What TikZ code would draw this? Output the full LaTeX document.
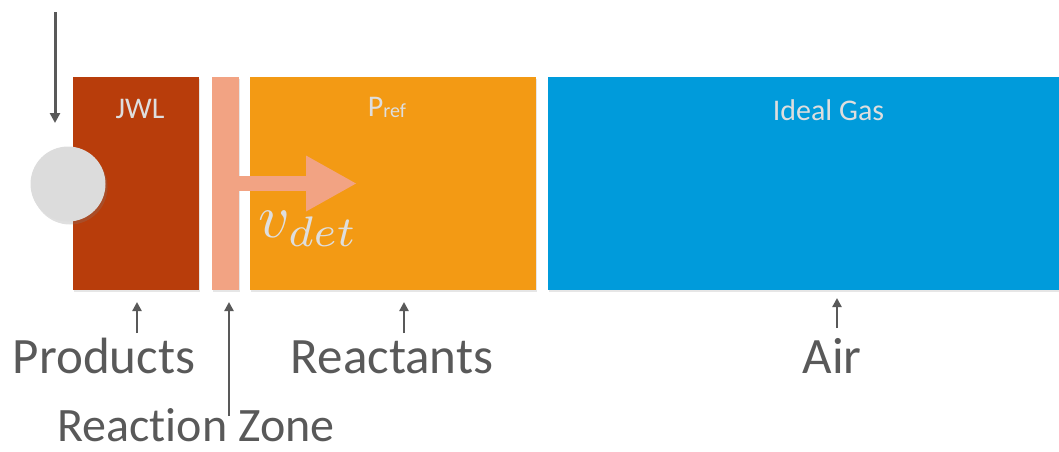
\documentclass[tikz,border=0pt]{standalone}
\usepackage{fontspec}
\setmainfont{Carlito}[Ligatures=NoCommon]
\usetikzlibrary{arrows.meta,positioning,shadows}

\definecolor{jwlred}{HTML}{B83D0B}
\definecolor{zonesalmon}{HTML}{F2A383}
\definecolor{reacorange}{HTML}{F39A14}
\definecolor{airblue}{HTML}{009BDB}
\definecolor{ballgray}{HTML}{DCDCDC}
\definecolor{labelgray}{HTML}{595959}
\definecolor{softgray}{HTML}{DEDEDE}

\begin{document}
\begin{tikzpicture}[
    x=1pt, y=-1pt,
    every node/.style={inner sep=0pt, outer sep=0pt},
    block/.style={rectangle, minimum height=213pt,
        drop shadow={shadow xshift=1pt, shadow yshift=-2pt, opacity=0.2}},
    boxtext/.style={font=\fontsize{30}{36}\selectfont, text=softgray},
    caption/.style={font=\fontsize{51}{60}\selectfont, text=labelgray},
    pointer/.style={draw=labelgray, line width=2.5pt, -{Triangle[length=9pt,width=9pt]}}
]
\useasboundingbox (0,0) rectangle (1059,451);

% material regions
\node[block, fill=jwlred, minimum width=126pt] (jwl) at (136,183.5) {};
\node[block, fill=zonesalmon, minimum width=27pt] (zone) at (225.5,183.5) {};
\node[block, fill=reacorange, minimum width=286pt] (reac) at (392.5,183.5) {};
\node[block, fill=airblue, minimum width=511pt] (air) at (803.5,183.5) {};

\node[boxtext, anchor=base] at ([xshift=4pt,yshift=-41pt]jwl.north) {JWL};
\node[boxtext, anchor=base] at ([xshift=-5.5pt,yshift=-39pt]reac.north)
    {P\raisebox{-1pt}{\fontsize{20}{24}\selectfont ref}};
\node[boxtext, anchor=base] at ([xshift=25pt,yshift=-43pt]air.north) {Ideal Gas};

% detonation front
\draw[zonesalmon, line width=15pt, -{Triangle[length=51pt,width=52pt]}]
    (zone.center) -- ([xshift=131.5pt]zone.center);
\node[anchor=base west, text=softgray, font=\normalsize]
    at ([xshift=9pt,yshift=-54pt]reac.west) {\scalebox{6.1}{$v_{det}$}};

% ignition point
\node[circle, minimum size=75pt, fill=ballgray,
    drop shadow={shadow xshift=2pt, shadow yshift=-3pt, opacity=0.25}] (ignition) at (68,184) {};
\coordinate (trigger) at (55,12);
\draw[pointer, line width=3pt, -{Triangle[length=10pt,width=10pt]}]
    (trigger) -- ([xshift=-13pt,yshift=61pt]ignition.center);

% captions
\node[caption, anchor=base] (prodlbl) at (104,373) {Products};
\node[caption, anchor=base] (reaclbl) at (392,373) {Reactants};
\node[caption, anchor=base] (airlbl) at (832,373) {Air};
\node[caption, anchor=base, font=\fontsize{48}{56}\selectfont] (zonelbl) at (196,441) {Reaction Zone};

\draw[pointer] ([xshift=1pt,yshift=-43pt]jwl.south) -- ([xshift=1pt,yshift=-12pt]jwl.south);
\draw[pointer] ([xshift=3.5pt,yshift=-126pt]zone.south) -- ([xshift=3.5pt,yshift=-12pt]zone.south);
\draw[pointer] ([xshift=11.5pt,yshift=-43pt]reac.south) -- ([xshift=11.5pt,yshift=-12pt]reac.south);
\draw[pointer] ([xshift=33.5pt,yshift=-38pt]air.south) -- ([xshift=33.5pt,yshift=-8pt]air.south);
\end{tikzpicture}
\end{document}
